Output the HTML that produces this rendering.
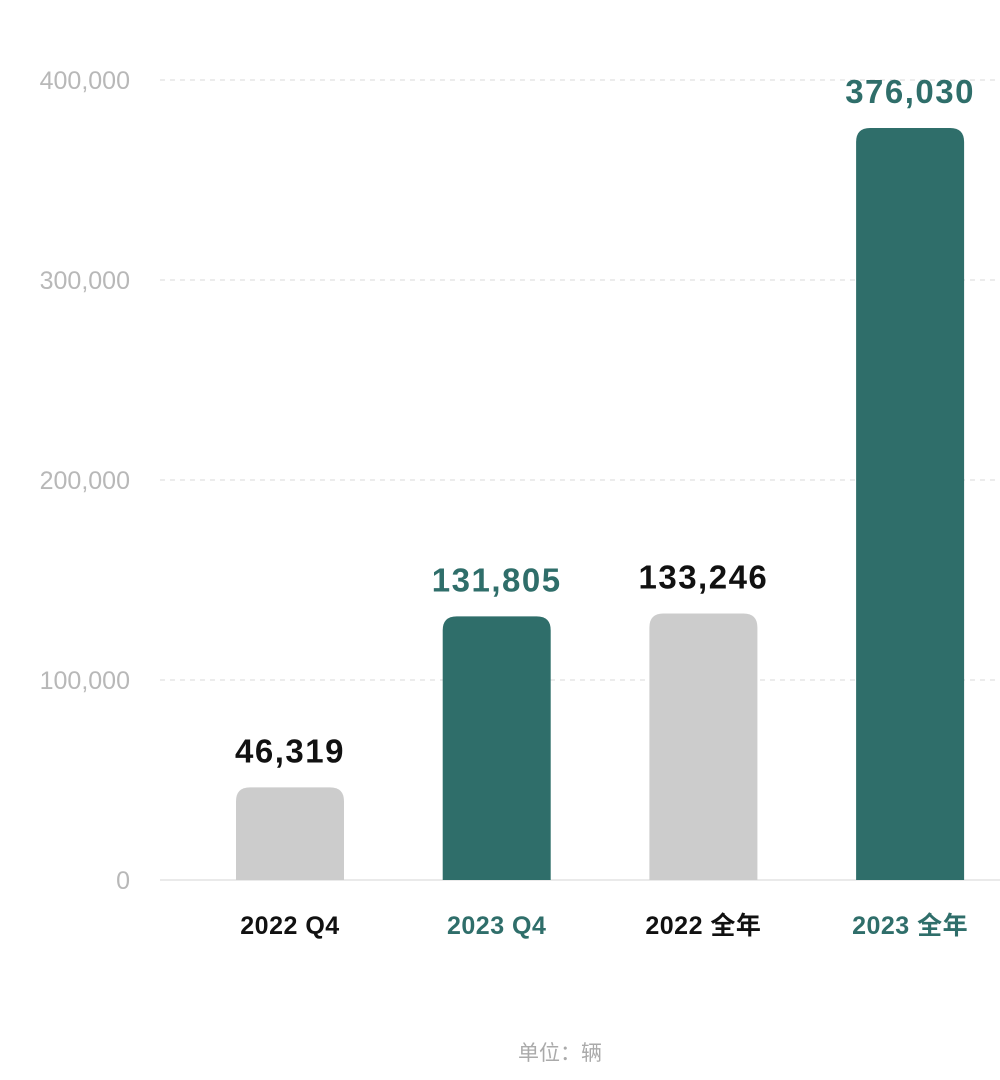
<!DOCTYPE html>
<html><head><meta charset="utf-8"><style>
html,body{margin:0;padding:0;background:#fff;}
svg{display:block;font-family:"Liberation Sans","Noto Sans CJK SC",sans-serif;}
</style></head><body>
<svg id="chart" width="1000" height="1080" viewBox="0 0 1000 1080">
<g id="grid"></g>
<g id="ylabels"></g>
<g id="bars"></g>
<g id="xlabels"></g>
<text x="560" y="1060" text-anchor="middle" font-size="21" fill="#aaa">单位：辆</text>
</svg>
<script>
const categories = ["2022 Q4", "2023 Q4", "2022 全年", "2023 全年"];
const values = [46319, 131805, 133246, 376030];
const valueLabels = ["46,319", "131,805", "133,246", "376,030"];
const highlight = [false, true, false, true];
const yTicks = [0, 100000, 200000, 300000, 400000];
const yTickLabels = ["0", "100,000", "200,000", "300,000", "400,000"];

const NS = "http://www.w3.org/2000/svg";
const y0 = 880, y1 = 80, vmax = 400000;
const yScale = v => y0 - (v / vmax) * (y0 - y1);
const xCenter = i => 290 + i * 206.7;
const bw = 108, r = 14;
const teal = "#2f6e6a", grey = "#cccccc";
function mk(tag, attrs, parent) {
  const e = document.createElementNS(NS, tag);
  for (const k in attrs) e.setAttribute(k, attrs[k]);
  parent.appendChild(e); return e;
}
const grid = document.getElementById("grid");
const yl = document.getElementById("ylabels");
yTicks.forEach((t, i) => {
  const y = yScale(t);
  const ln = mk("line", {x1: 160, x2: 1000, y1: y, y2: y, stroke: t === 0 ? "#e3e3e3" : "#e6e6e6", "stroke-width": 1.5, "stroke-dasharray": t === 0 ? "" : "5,5"}, grid);
  
  
  const tx = mk("text", {x: 130, y: y + 9, "text-anchor": "end", "font-size": 25, fill: "#b8b8b8"}, yl);
  tx.textContent = yTickLabels[i];
  
  
});
const bars = document.getElementById("bars");
const xl = document.getElementById("xlabels");
categories.forEach((c, i) => {
  const cx = xCenter(i), top = yScale(values[i]);
  const x = cx - bw / 2;
  const d = `M${x},${y0} L${x},${top + r} Q${x},${top} ${x + r},${top} L${x + bw - r},${top} Q${x + bw},${top} ${x + bw},${top + r} L${x + bw},${y0} Z`;
  const col = highlight[i] ? teal : grey;
  const p = mk("path", {d: d, fill: col}, bars);
  
  
  const vl = mk("text", {x: cx, y: top - 25, "text-anchor": "middle", "font-size": 33, "font-weight": "bold", "letter-spacing": 1.5, fill: highlight[i] ? teal : "#111"}, bars);
  vl.textContent = valueLabels[i];
  
  
  const cl = mk("text", {x: cx, y: 934, "text-anchor": "middle", "font-size": 25, "font-weight": "bold", "letter-spacing": 0.5, fill: highlight[i] ? teal : "#111"}, xl);
  cl.textContent = c;
  
  
});
</script>
</body></html>
